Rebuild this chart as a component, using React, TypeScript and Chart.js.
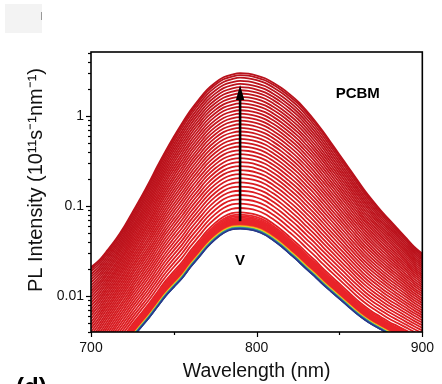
import React, { useEffect, useRef } from "react";
import { Chart, registerables } from "chart.js";

Chart.register(...registerables);

// Wavelength grid (nm)
const wavelengths = [
  700, 705, 710, 715, 720, 725, 730, 735, 740, 745, 750, 755, 760, 765, 770,
  775, 780, 785, 790, 795, 800, 805, 810, 815, 820, 825, 830, 835, 840, 845,
  850, 855, 860, 865, 870, 875, 880, 885, 890, 895, 900,
];

// Highest-bias spectrum (top curve)
const upperCurve = [
  0.0209, 0.0251, 0.0324, 0.0427, 0.0589, 0.0851, 0.123, 0.182, 0.275, 0.407,
  0.589, 0.832, 1.148, 1.514, 1.95, 2.344, 2.692, 2.884, 3.0, 2.951, 2.818,
  2.63, 2.344, 2.042, 1.738, 1.445, 1.148, 0.891, 0.676, 0.501, 0.372, 0.275,
  0.204, 0.151, 0.115, 0.0891, 0.0708, 0.0562, 0.0447, 0.0355, 0.0295,
];

// Lowest-bias spectrum (bottom curve)
const lowerCurve = [
  0.00063, 0.00095, 0.00138, 0.00195, 0.00263, 0.00347, 0.00447, 0.00575,
  0.00759, 0.01, 0.0126, 0.0158, 0.0209, 0.0269, 0.0347, 0.0427, 0.0501,
  0.055, 0.056, 0.055, 0.0525, 0.0479, 0.0417, 0.0355, 0.0295, 0.0245, 0.02,
  0.0166, 0.0135, 0.0112, 0.00933, 0.00776, 0.00646, 0.0055, 0.00479, 0.00427,
  0.0038, 0.00347, 0.00316, 0.00288, 0.00263,
];

// Peak intensity of every spectrum at 790 nm, lowest to highest bias
const peakLevels = [
  0.056, 0.0564, 0.0568, 0.0572, 0.0577, 0.0582, 0.0587, 0.0592, 0.0598,
  0.0604, 0.0611, 0.062, 0.0632, 0.0646, 0.0662, 0.068, 0.07, 0.0722, 0.0746,
  0.0772, 0.0805, 0.0851, 0.0953, 0.1065, 0.119, 0.1328, 0.1481, 0.1649,
  0.1834, 0.204, 0.2265, 0.2513, 0.2785, 0.3084, 0.341, 0.377, 0.4162, 0.459,
  0.5058, 0.5568, 0.6123, 0.673, 0.7386, 0.81, 0.8876, 0.9714, 1.062, 1.16,
  1.266, 1.381, 1.504, 1.636, 1.779, 1.932, 2.097, 2.273, 2.461, 2.663, 2.85,
  3.0,
];

const peakWavelength = 790;
const xTicks = [700, 750, 800, 850, 900];
const xTickLabels = [700, 800, 900];
const yTickLabels = [0.01, 0.1, 1];
const xRange = [700, 900];
const yRange = [0.004, 5.14];
const arrowRange = [0.068, 2.21];

const rainbow = [
  "#2b3788", "#2f62aa", "#2a8bb5", "#33a88c", "#62b84c", "#b0d038",
  "#ece026", "#f8c01c", "#f7941f", "#f2662a", "#ec3c26",
];
const DENSE = 21;

function curveColor(i: number, n: number): string {
  if (i < rainbow.length) return rainbow[i];
  if (i < DENSE) return "#e9242a";
  const t = (i - DENSE) / Math.max(1, n - 1 - DENSE);
  const r = Math.round(224 + (184 - 224) * t);
  const g = Math.round(30 + (18 - 30) * t);
  const b = Math.round(34 + (28 - 34) * t);
  return `rgb(${r},${g},${b})`;
}

function buildDatasets() {
  const pIdx = wavelengths.indexOf(peakWavelength);
  const lo0 = Math.log10(lowerCurve[pIdx]);
  const hi0 = Math.log10(upperCurve[pIdx]);
  return peakLevels.map((p, i) => {
    const f = (Math.log10(p) - lo0) / (hi0 - lo0);
    const data = wavelengths.map((w, k) => {
      const lo = Math.log10(lowerCurve[k]);
      const hi = Math.log10(upperCurve[k]);
      return { x: w, y: Math.pow(10, lo + f * (hi - lo)) };
    });
    return {
      label: `V${i + 1}`,
      data,
      borderColor: curveColor(i, peakLevels.length),
      borderWidth: i === 0 ? 1.5 : 1.8,
      pointRadius: 0,
      fill: false,
      cubicInterpolationMode: "monotone" as const,
    };
  });
}

const FONT = '"Liberation Sans", Arial, sans-serif';

const overlay = {
  id: "overlay",
  afterDraw(chart: any) {
    const { ctx, chartArea: a } = chart;
    const xs = chart.scales.x;
    const ys = chart.scales.y;
    ctx.save();
    ctx.strokeStyle = "#000";
    ctx.fillStyle = "#000";
    // frame
    ctx.lineWidth = 1.6;
    ctx.strokeRect(a.left, a.top, a.right - a.left, a.bottom - a.top);
    // y ticks
    ctx.lineWidth = 1.2;
    for (let e = -3; e <= 0; e++) {
      for (let k = 1; k <= 9; k++) {
        const v = k * Math.pow(10, e);
        if (v < yRange[0] - 1e-9 || v > yRange[1]) continue;
        const py = Math.round(ys.getPixelForValue(v)) + 0.5;
        const len = k === 1 ? 5 : 3;
        ctx.beginPath();
        ctx.moveTo(a.left - len, py);
        ctx.lineTo(a.left, py);
        ctx.stroke();
      }
    }
    // x ticks
    xTicks.forEach((v) => {
      const px = Math.round(xs.getPixelForValue(v)) + 0.5;
      const len = xTickLabels.includes(v) ? 5 : 3;
      ctx.beginPath();
      ctx.moveTo(px, a.bottom);
      ctx.lineTo(px, a.bottom + len);
      ctx.stroke();
    });
    // arrow
    const ax = xs.getPixelForValue(peakWavelength);
    const ay0 = ys.getPixelForValue(arrowRange[0]);
    const ay1 = ys.getPixelForValue(arrowRange[1]);
    ctx.lineWidth = 2.6;
    ctx.beginPath();
    ctx.moveTo(ax, ay0);
    ctx.lineTo(ax, ay1 + 12);
    ctx.stroke();
    ctx.beginPath();
    ctx.moveTo(ax, ay1);
    ctx.lineTo(ax - 4.2, ay1 + 15);
    ctx.lineTo(ax + 4.2, ay1 + 15);
    ctx.closePath();
    ctx.fill();
    // labels
    ctx.textAlign = "center";
    ctx.textBaseline = "middle";
    ctx.font = `bold 15px ${FONT}`;
    ctx.fillText("V", ax, ys.getPixelForValue(0.0248));
    ctx.fillText("PCBM", xs.getPixelForValue(861), ys.getPixelForValue(1.75));
    // axis titles
    ctx.fillStyle = "#111";
    ctx.font = `19.5px ${FONT}`;
    ctx.fillText("Wavelength (nm)", (a.left + a.right) / 2, 372);
    ctx.save();
    ctx.translate(36, 180);
    ctx.rotate(-Math.PI / 2);
    ctx.font = `20px ${FONT}`;
    ctx.fillText("PL Intensity (10¹¹s⁻¹nm⁻¹)", 0, 0);
    ctx.restore();
    // panel label
    ctx.textAlign = "left";
    ctx.textBaseline = "alphabetic";
    ctx.font = `bold 24px ${FONT}`;
    ctx.fillStyle = "#000";
    ctx.fillText("(d)", 16, 395);
    ctx.restore();
  },
};

export default function App() {
  const ref = useRef<HTMLCanvasElement | null>(null);
  useEffect(() => {
    if (!ref.current) return;
    const chart = new Chart(ref.current, {
      type: "line",
      data: { datasets: buildDatasets() as any },
      options: {
        animation: false,
        responsive: false,
        devicePixelRatio: 1,
        layout: { padding: { left: 0, right: 15, top: 52, bottom: 0 } },
        plugins: { legend: { display: false }, tooltip: { enabled: false } },
        elements: { line: { borderJoinStyle: "round" } },
        scales: {
          x: {
            type: "linear",
            min: xRange[0],
            max: xRange[1],
            grid: { display: false, drawTicks: false },
            border: { display: false },
            afterFit: (s: any) => {
              s.height = 52;
            },
            afterBuildTicks: (s: any) => {
              s.ticks = xTickLabels.map((v) => ({ value: v }));
            },
            ticks: {
              padding: 8,
              color: "#111",
              font: { family: FONT, size: 14 },
              callback: (v: any) => String(v),
              maxRotation: 0,
              autoSkip: false,
            },
          },
          y: {
            type: "logarithmic",
            min: yRange[0],
            max: yRange[1],
            grid: { display: false, drawTicks: false },
            border: { display: false },
            afterFit: (s: any) => {
              s.width = 91;
            },
            afterBuildTicks: (s: any) => {
              s.ticks = yTickLabels.map((v) => ({ value: v }));
            },
            ticks: {
              padding: 7,
              color: "#111",
              font: { family: FONT, size: 14 },
              autoSkip: false,
              callback: (v: any) => String(v),
            },
          },
        },
      },
      plugins: [overlay],
    });
    return () => chart.destroy();
  }, []);
  return (
    <div
      style={{
        position: "fixed",
        left: 0,
        top: 0,
        width: 442,
        height: 384,
        background: "#fff",
        overflow: "hidden",
      }}
    >
      <div
        style={{
          position: "absolute",
          left: 5,
          top: 4,
          width: 37,
          height: 29,
          background: "#f3f3f3",
        }}
      />
      <div
        style={{
          position: "absolute",
          left: 41,
          top: 12,
          width: 1,
          height: 8,
          background: "#999",
        }}
      />
      <canvas
        ref={ref}
        width={442}
        height={384}
        style={{ position: "absolute", left: 0, top: 0, width: 442, height: 384 }}
      />
    </div>
  );
}
